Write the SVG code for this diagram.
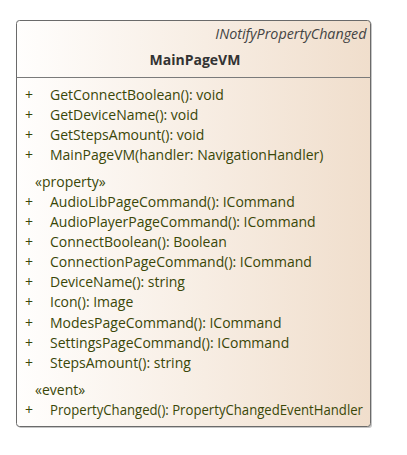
<svg xmlns="http://www.w3.org/2000/svg" width="407" height="455" viewBox="0 0 407 455">
<defs>
<linearGradient id="bg" x1="0" y1="0" x2="1" y2="0">
<stop offset="0" stop-color="#FFFEFD"/>
<stop offset="1" stop-color="#F0DECC"/>
</linearGradient>
<style>
.m{font-family:"Open Sans","Noto Sans","Liberation Sans",sans-serif;font-size:14px;fill:#3A4708}
.t{font-family:"Open Sans","Noto Sans","Liberation Sans",sans-serif;font-size:14px;font-weight:bold;fill:#333333}
.i{font-family:"Open Sans","Noto Sans","Liberation Sans",sans-serif;font-size:14.3px;font-style:italic;fill:#444444}
</style>
</defs>
<rect width="407" height="455" fill="#FFFFFF"/>
<g id="MainPageVM">
<rect x="18" y="22" width="354" height="406" rx="3" fill="#A0A0A0" opacity="0.6"/>
<rect x="16.5" y="20.5" width="354" height="406" rx="3" fill="url(#bg)" stroke="#6A6A6A" stroke-width="1"/>
<line x1="16.5" y1="77.5" x2="370.5" y2="77.5" stroke="#7A7A7A" stroke-width="1"/>
<text class="i" x="366.5" y="38.5" text-anchor="end">INotifyPropertyChanged</text>
<text class="t" x="195" y="65" text-anchor="middle">MainPageVM</text>
<g class="m">
<text x="25" y="100">+</text><text x="50" y="100">GetConnectBoolean(): void</text>
<text x="25" y="120">+</text><text x="50" y="120">GetDeviceName(): void</text>
<text x="25" y="140">+</text><text x="50" y="140">GetStepsAmount(): void</text>
<text x="25" y="160">+</text><text x="50" y="160">MainPageVM(handler: NavigationHandler)</text>
<text x="35" y="186.5">«property»</text>
<text x="25" y="206.5">+</text><text x="50" y="206.5">AudioLibPageCommand(): ICommand</text>
<text x="25" y="226.5">+</text><text x="50" y="226.5">AudioPlayerPageCommand(): ICommand</text>
<text x="25" y="246.5">+</text><text x="50" y="246.5">ConnectBoolean(): Boolean</text>
<text x="25" y="266.5">+</text><text x="50" y="266.5">ConnectionPageCommand(): ICommand</text>
<text x="25" y="286.5">+</text><text x="50" y="286.5">DeviceName(): string</text>
<text x="25" y="307">+</text><text x="50" y="307">Icon(): Image</text>
<text x="25" y="328">+</text><text x="50" y="328">ModesPageCommand(): ICommand</text>
<text x="25" y="348">+</text><text x="50" y="348">SettingsPageCommand(): ICommand</text>
<text x="25" y="368">+</text><text x="50" y="368">StepsAmount(): string</text>
<text x="35" y="394.5">«event»</text>
<text x="25" y="414.5">+</text><text x="50" y="414.5" textLength="313" lengthAdjust="spacingAndGlyphs">PropertyChanged(): PropertyChangedEventHandler</text>
</g>
</g>
</svg>
